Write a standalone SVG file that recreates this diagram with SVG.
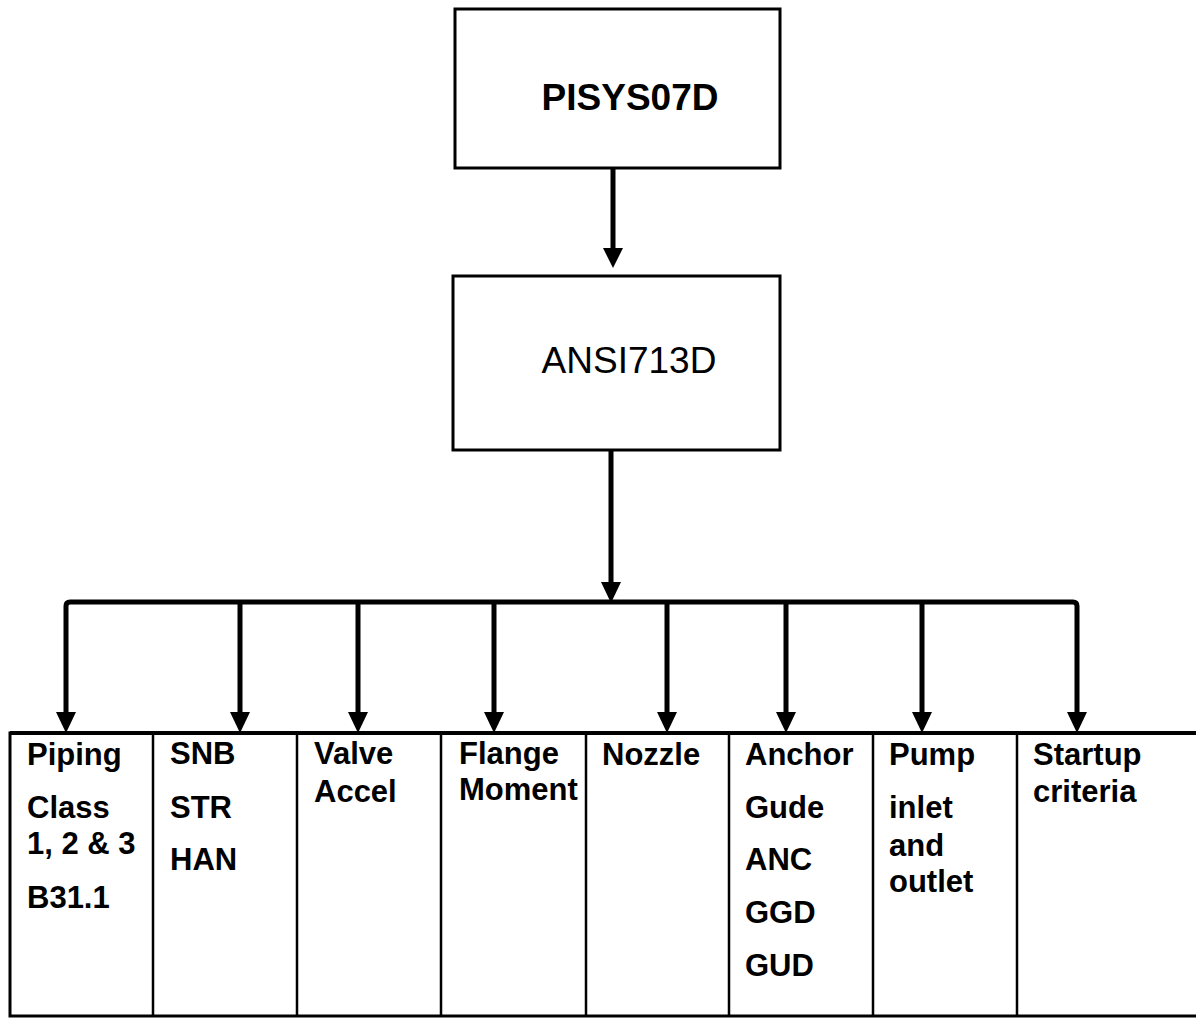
<svg xmlns="http://www.w3.org/2000/svg" width="1196" height="1018" viewBox="0 0 1196 1018">
<defs>
<style>
.box{fill:#fff;stroke:#000;stroke-width:3}
.line{fill:none;stroke:#000;stroke-width:5;stroke-linejoin:round}
.t{font-family:"Liberation Sans",Arial,sans-serif;font-weight:bold;font-size:31px;fill:#000}
.big{font-family:"Liberation Sans",Arial,sans-serif;font-size:37px;fill:#000;text-anchor:middle}
.div{stroke:#000;stroke-width:2.5}
</style>
</defs>
<rect width="1196" height="1018" fill="#fff"/>
<g id="node-pisys">
<rect class="box" x="455" y="9" width="325" height="159"/>
<text class="big" x="630" y="110" font-weight="bold">PISYS07D</text>
</g>
<g id="node-ansi">
<rect class="box" x="453" y="276" width="327" height="174"/>
<text class="big" x="629" y="373">ANSI713D</text>
</g>
<g id="connectors">
<path d="M613,168 V248" class="line"/>
<path d="M603,248 L623,248 L613,268 Z" fill="#000"/>
<path d="M611,450 V584" class="line"/>
<path d="M601,582 L621,582 L611,603 Z" fill="#000"/>
<path d="M66,713 V606 Q66,602 70,602 H1073 Q1077,602 1077,606 V713" class="line"/>
<path d="M240,602 V713 M358,602 V713 M494,602 V713 M667,602 V713 M786,602 V713 M922,602 V713" class="line"/>
<g fill="#000">
<path d="M56,712 L76,712 L66,733 Z"/>
<path d="M230,712 L250,712 L240,733 Z"/>
<path d="M348,712 L368,712 L358,733 Z"/>
<path d="M484,712 L504,712 L494,733 Z"/>
<path d="M657,712 L677,712 L667,733 Z"/>
<path d="M776,712 L796,712 L786,733 Z"/>
<path d="M912,712 L932,712 L922,733 Z"/>
<path d="M1067,712 L1087,712 L1077,733 Z"/>
</g>
</g>
<g id="table">
<rect x="10" y="733" width="1200" height="283" fill="none" stroke="#000" stroke-width="3"/>
<line x1="10" y1="733" x2="1196" y2="733" stroke="#000" stroke-width="4"/>
<line class="div" x1="153" y1="733" x2="153" y2="1016"/>
<line class="div" x1="297" y1="733" x2="297" y2="1016"/>
<line class="div" x1="441" y1="733" x2="441" y2="1016"/>
<line class="div" x1="586" y1="733" x2="586" y2="1016"/>
<line class="div" x1="729" y1="733" x2="729" y2="1016"/>
<line class="div" x1="873" y1="733" x2="873" y2="1016"/>
<line class="div" x1="1017" y1="733" x2="1017" y2="1016"/>
</g>
<g id="node-piping">
<text class="t" x="27" y="765">Piping</text>
<text class="t" x="27" y="818">Class</text>
<text class="t" x="27" y="854">1, 2 &amp; 3</text>
<text class="t" x="27" y="908">B31.1</text>
</g>
<g id="node-snb">
<text class="t" x="170" y="764">SNB</text>
<text class="t" x="170" y="818">STR</text>
<text class="t" x="170" y="870">HAN</text>
</g>
<g id="node-valve">
<text class="t" x="314" y="764">Valve</text>
<text class="t" x="314" y="802">Accel</text>
</g>
<g id="node-flange">
<text class="t" x="459" y="764">Flange</text>
<text class="t" x="459" y="800">Moment</text>
</g>
<g id="node-nozzle">
<text class="t" x="602" y="765">Nozzle</text>
</g>
<g id="node-anchor">
<text class="t" x="745" y="765">Anchor</text>
<text class="t" x="745" y="818">Gude</text>
<text class="t" x="745" y="870">ANC</text>
<text class="t" x="745" y="923">GGD</text>
<text class="t" x="745" y="976">GUD</text>
</g>
<g id="node-pump">
<text class="t" x="889" y="765">Pump</text>
<text class="t" x="889" y="818">inlet</text>
<text class="t" x="889" y="856">and</text>
<text class="t" x="889" y="892">outlet</text>
</g>
<g id="node-startup">
<text class="t" x="1033" y="765">Startup</text>
<text class="t" x="1033" y="802">criteria</text>
</g>
</svg>
